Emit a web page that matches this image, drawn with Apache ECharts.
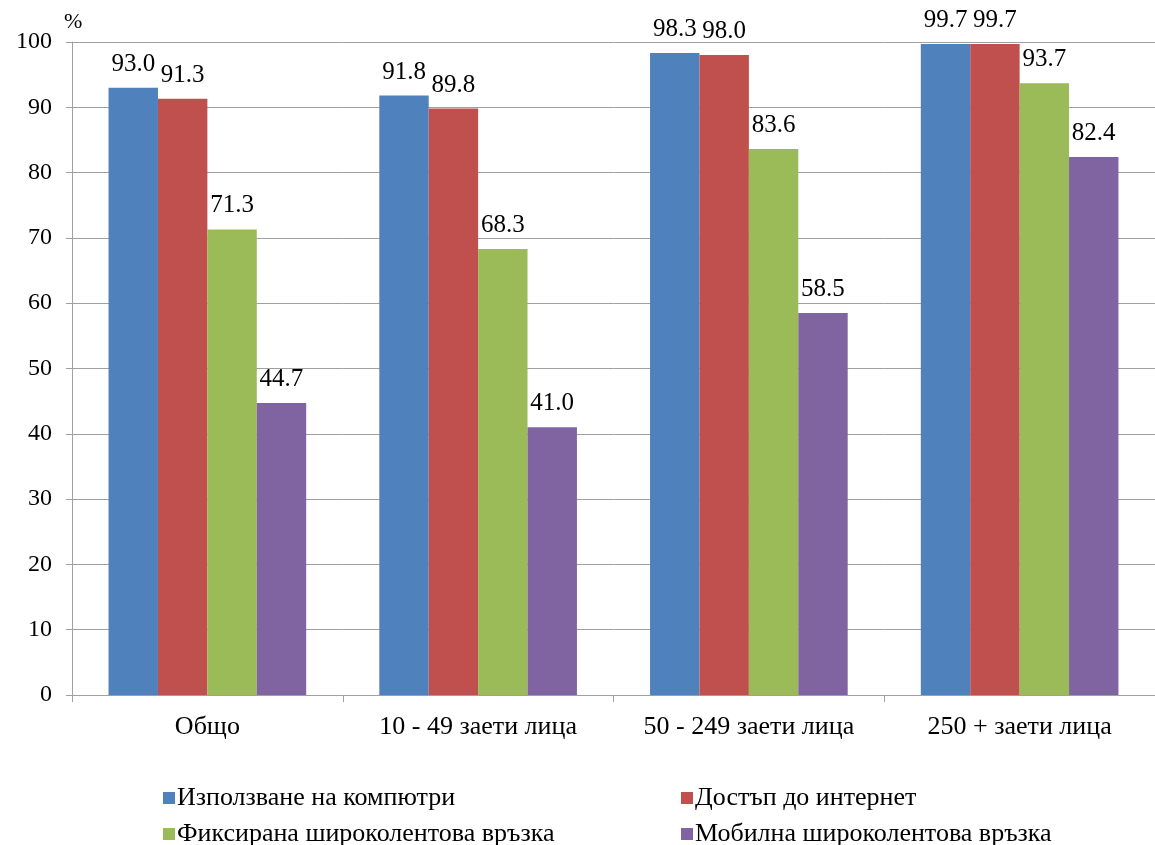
<!DOCTYPE html>
<html>
<head>
<meta charset="utf-8">
<script src="https://cdn.jsdelivr.net/npm/echarts@6/dist/echarts.min.js"></script>
<style>
  html, body { margin: 0; padding: 0; background: #fff; }
  #chart { width: 1155px; height: 845px; }
</style>
</head>
<body>
<div id="chart"></div>
<script>
// categories and series
var categories = ['Общо', '10 - 49 заети лица', '50 - 249 заети лица', '250 + заети лица'];
var seriesNames = [
  'Използване на компютри',
  'Достъп до интернет',
  'Фиксирана широколентова връзка',
  'Мобилна широколентова връзка'
];
var computers = [93.0, 91.8, 98.3, 99.7];
var internet = [91.3, 89.8, 98.0, 99.7];
var fixedBroadband = [71.3, 68.3, 83.6, 93.7];
var mobileBroadband = [44.7, 41.0, 58.5, 82.4];
var colors = ['#4F81BD', '#C0504D', '#9BBB59', '#8064A2'];

var font = '"Liberation Serif", serif';
var chart = echarts.init(document.getElementById('chart'));

function makeSeries(name, data, color) {
  return {
    name: name,
    type: 'bar',
    data: data,
    barGap: '0%',
    barCategoryGap: '27%',
    itemStyle: { color: color },
    label: {
      show: true,
      position: 'top',
      distance: 11,
      color: '#000',
      fontFamily: font,
      fontSize: 25,
      formatter: function (p) { return p.value.toFixed(1); }
    }
  };
}

// одна легенда на всеки запис, подредени в две колони
function legendItem(name, left, top) {
  return {
    left: left,
    top: top,
    data: [name],
    itemWidth: 12,
    itemHeight: 12,
    icon: 'rect',
    textStyle: { color: '#000', fontFamily: font, fontSize: 26, padding: [0, 0, 0, -3] }
  };
}

var option = {
  animation: false,
  color: colors,
  grid: { left: 72, right: -13, top: 42, bottom: 150, containLabel: false },
  legend: [
    legendItem(seriesNames[0], 158, 780),
    legendItem(seriesNames[1], 676, 780),
    legendItem(seriesNames[2], 158, 816),
    legendItem(seriesNames[3], 676, 816)
  ],
  xAxis: {
    type: 'category',
    data: categories,
    axisLine: { lineStyle: { color: '#A0A0A0', width: 1 } },
    axisTick: { show: true, length: 7, lineStyle: { color: '#A0A0A0' } },
    axisLabel: { interval: 0, color: '#000', fontFamily: font, fontSize: 26, margin: 19 }
  },
  yAxis: {
    type: 'value',
    min: 0,
    max: 100,
    interval: 10,
    name: '%',
    nameGap: 9,
    nameTextStyle: { color: '#000', fontFamily: font, fontSize: 22, align: 'left', padding: [0, 0, 0, -8] },
    axisLine: { show: true, lineStyle: { color: '#A0A0A0' } },
    axisTick: { show: true, length: 6, lineStyle: { color: '#A0A0A0' } },
    splitLine: { show: true, lineStyle: { color: '#A0A0A0' } },
    axisLabel: { color: '#000', fontFamily: font, fontSize: 24, margin: 20 }
  },
  series: [
    makeSeries(seriesNames[0], computers, colors[0]),
    makeSeries(seriesNames[1], internet, colors[1]),
    makeSeries(seriesNames[2], fixedBroadband, colors[2]),
    makeSeries(seriesNames[3], mobileBroadband, colors[3])
  ]
};

chart.setOption(option);
</script>
</body>
</html>
